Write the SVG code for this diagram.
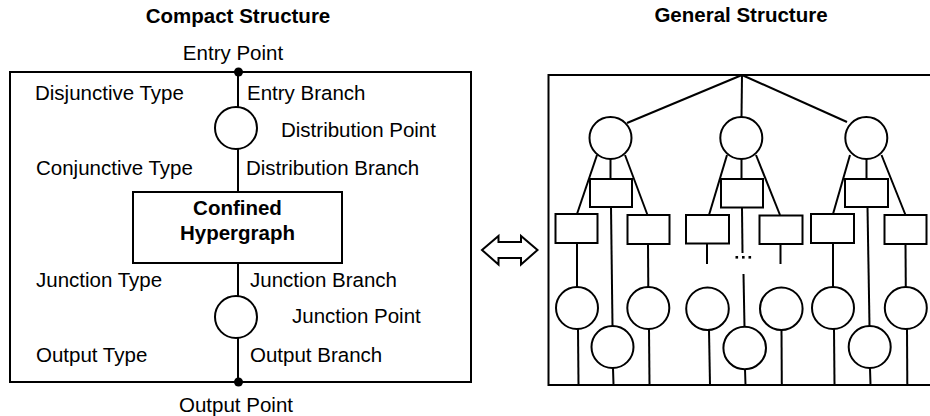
<svg xmlns="http://www.w3.org/2000/svg" width="930" height="416" viewBox="0 0 930 416">
  <style>
    .ln { stroke: #000; stroke-width: 2; fill: none; }
    .nd { stroke: #000; stroke-width: 2; fill: #fff; }
    .lbl { font-family: "Liberation Sans", Arial, sans-serif; font-size: 20.5px; fill: #000; }
    .b { font-weight: bold; }
    .c { text-anchor: middle; }
  </style>
  <rect width="930" height="416" fill="#fff"/>

  <!-- Compact structure -->
  <text class="lbl b c" x="238" y="23">Compact Structure</text>
  <text class="lbl c" x="233" y="60">Entry Point</text>
  <g id="compact-frame">
    <rect class="ln" x="10" y="72" width="461" height="310"/>
  </g>
  <g id="compact-connectors">
    <line class="ln" x1="238" y1="72" x2="238" y2="107"/>
    <line class="ln" x1="238" y1="149" x2="238" y2="192"/>
    <line class="ln" x1="238" y1="263" x2="238" y2="296"/>
    <line class="ln" x1="238" y1="338" x2="238" y2="382"/>
  </g>
  <g id="entry-point"><circle cx="238.5" cy="72" r="4.5" fill="#000"/></g>
  <g id="distribution-point"><circle class="nd" cx="236" cy="128" r="21"/></g>
  <g id="confined-hypergraph">
    <rect class="nd" x="133" y="192" width="209" height="71"/>
    <text class="lbl b c" x="237.5" y="215">Confined</text>
    <text class="lbl b c" x="237.5" y="240">Hypergraph</text>
  </g>
  <g id="junction-point"><circle class="nd" cx="236" cy="317" r="21"/></g>
  <g id="output-point"><circle cx="238.5" cy="382" r="4.5" fill="#000"/></g>

  <text class="lbl" x="35" y="100">Disjunctive Type</text>
  <text class="lbl" x="247" y="100">Entry Branch</text>
  <text class="lbl" x="281" y="137">Distribution Point</text>
  <text class="lbl" x="36" y="175">Conjunctive Type</text>
  <text class="lbl" x="246" y="175">Distribution Branch</text>
  <text class="lbl" x="36" y="287">Junction Type</text>
  <text class="lbl" x="250" y="287">Junction Branch</text>
  <text class="lbl" x="292" y="323">Junction Point</text>
  <text class="lbl" x="36" y="362">Output Type</text>
  <text class="lbl" x="250" y="362">Output Branch</text>
  <text class="lbl c" x="236" y="412">Output Point</text>

  <!-- Equivalence arrow -->
  <g id="equivalence">
    <polygon class="ln" stroke-linejoin="miter" points="482,250 498.5,236 498.5,242 521,242 521,236 537.5,250 521,264.5 521,258 498.5,258 498.5,264.5"/>
  </g>

  <!-- General structure -->
  <text class="lbl b c" x="741" y="22">General Structure</text>
  <g id="general-frame">
    <path class="ln" d="M936,75 H548.5 V385 H936"/>
  </g>

  <g id="general-connectors">
    <!-- fan-out from the apex -->
    <line class="ln" x1="742" y1="75" x2="627" y2="123"/>
    <line class="ln" x1="742" y1="75" x2="741.5" y2="117"/>
    <line class="ln" x1="742" y1="75" x2="847" y2="122"/>

    <!-- group 1 -->
    <line class="ln" x1="610.5" y1="159" x2="610.5" y2="179"/>
    <line class="ln" x1="597" y1="155" x2="577" y2="214"/>
    <line class="ln" x1="625" y1="155" x2="647.5" y2="215"/>
    <line class="ln" x1="577" y1="243" x2="577" y2="287"/>
    <line class="ln" x1="578" y1="329" x2="578.5" y2="385"/>
    <line class="ln" x1="611" y1="207" x2="612.5" y2="326"/>
    <line class="ln" x1="613" y1="368" x2="613.5" y2="385"/>
    <line class="ln" x1="648" y1="244" x2="648.3" y2="287"/>
    <line class="ln" x1="649" y1="329" x2="649.5" y2="385"/>

    <!-- group 2 -->
    <line class="ln" x1="741.5" y1="159" x2="741.5" y2="179"/>
    <line class="ln" x1="727" y1="155" x2="709" y2="215"/>
    <line class="ln" x1="756" y1="155" x2="780" y2="215"/>
    <line class="ln" x1="707" y1="243" x2="707" y2="264"/>
    <line class="ln" x1="780.5" y1="244" x2="780.5" y2="264"/>
    <line class="ln" x1="742" y1="208" x2="742.5" y2="253"/>
    <line class="ln" x1="743.5" y1="274" x2="744.5" y2="327"/>
    <line class="ln" x1="709" y1="330" x2="710" y2="385"/>
    <line class="ln" x1="745" y1="369" x2="745.5" y2="385"/>
    <line class="ln" x1="781.5" y1="330" x2="781.8" y2="385"/>

    <!-- group 3 -->
    <line class="ln" x1="866.5" y1="159" x2="866.5" y2="179"/>
    <line class="ln" x1="850" y1="155" x2="833" y2="214"/>
    <line class="ln" x1="881.5" y1="155" x2="905.5" y2="215"/>
    <line class="ln" x1="833" y1="243" x2="833" y2="287"/>
    <line class="ln" x1="834" y1="329" x2="834.5" y2="385"/>
    <line class="ln" x1="867.5" y1="207" x2="869.5" y2="326"/>
    <line class="ln" x1="870" y1="368" x2="870.5" y2="385"/>
    <line class="ln" x1="905.5" y1="244" x2="905.8" y2="287"/>
    <line class="ln" x1="907" y1="329" x2="907.3" y2="385"/>
  </g>

  <!-- elision dots -->
  <g id="elision" fill="#000">
    <rect x="735.5" y="256" width="2.6" height="2.6"/>
    <rect x="742" y="256" width="2.6" height="2.6"/>
    <rect x="748.5" y="256" width="2.6" height="2.6"/>
  </g>

  <!-- group 1 nodes -->
  <g id="g1-dist"><circle class="nd" cx="610.5" cy="138" r="21"/></g>
  <g id="g1-hyper-mid"><rect class="nd" x="590" y="179" width="42" height="28"/></g>
  <g id="g1-hyper-left"><rect class="nd" x="555.5" y="214" width="42" height="29"/></g>
  <g id="g1-hyper-right"><rect class="nd" x="627.5" y="215" width="42" height="29"/></g>
  <g id="g1-junc-left"><circle class="nd" cx="577" cy="308" r="21"/></g>
  <g id="g1-junc-mid"><circle class="nd" cx="612.5" cy="347" r="21"/></g>
  <g id="g1-junc-right"><circle class="nd" cx="648.3" cy="308" r="21"/></g>

  <!-- group 2 nodes -->
  <g id="g2-dist"><circle class="nd" cx="741.3" cy="138" r="21"/></g>
  <g id="g2-hyper-mid"><rect class="nd" x="721" y="179" width="42" height="28.5"/></g>
  <g id="g2-hyper-left"><rect class="nd" x="686" y="215" width="43" height="28.5"/></g>
  <g id="g2-hyper-right"><rect class="nd" x="759.5" y="215.5" width="43" height="28.5"/></g>
  <g id="g2-junc-left"><circle class="nd" cx="707.5" cy="308.7" r="21.3"/></g>
  <g id="g2-junc-mid"><circle class="nd" cx="744.7" cy="348" r="21.3"/></g>
  <g id="g2-junc-right"><circle class="nd" cx="781.3" cy="308.7" r="21.3"/></g>

  <!-- group 3 nodes -->
  <g id="g3-dist"><circle class="nd" cx="866.3" cy="138" r="21"/></g>
  <g id="g3-hyper-mid"><rect class="nd" x="845" y="179" width="43" height="28"/></g>
  <g id="g3-hyper-left"><rect class="nd" x="811" y="214" width="43" height="29"/></g>
  <g id="g3-hyper-right"><rect class="nd" x="884.5" y="215" width="42" height="29"/></g>
  <g id="g3-junc-left"><circle class="nd" cx="833" cy="308" r="21"/></g>
  <g id="g3-junc-mid"><circle class="nd" cx="869.7" cy="347" r="21"/></g>
  <g id="g3-junc-right"><circle class="nd" cx="905.8" cy="308" r="21"/></g>
</svg>
